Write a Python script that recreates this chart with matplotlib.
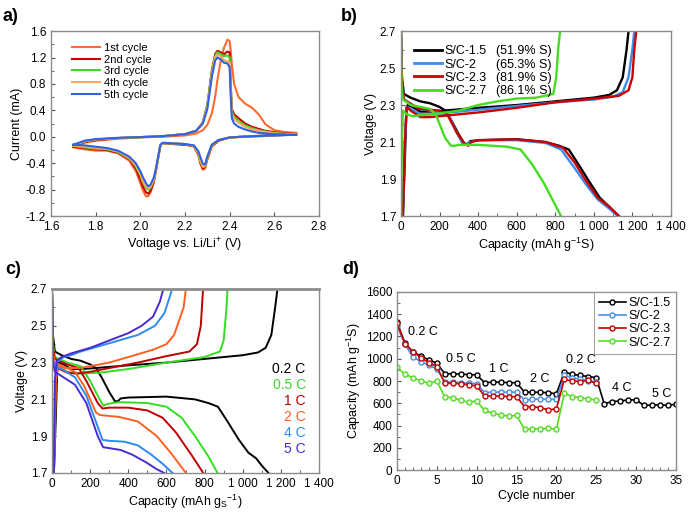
import matplotlib
matplotlib.use("Agg")
import matplotlib.pyplot as plt
from matplotlib.lines import Line2D
from matplotlib.ticker import FuncFormatter, MultipleLocator

plt.rcParams["font.family"] = ["Liberation Sans", "DejaVu Sans"]
plt.rcParams["axes.unicode_minus"] = False
plt.rcParams["mathtext.default"] = "regular"

# ----------------------------
# a) cyclic voltammetry
# ----------------------------
CV_UP_V = [1.70, 1.75, 1.80, 1.90, 2.00, 2.10, 2.20, 2.25, 2.28, 2.30, 2.32, 2.335,
           2.345, 2.36, 2.375, 2.39, 2.40, 2.405, 2.41, 2.42, 2.44, 2.47, 2.50, 2.53,
           2.56, 2.60, 2.65, 2.70]
CV_DOWN_V = [2.70, 2.60, 2.50, 2.45, 2.40, 2.35, 2.32, 2.30, 2.29, 2.28, 2.27, 2.26,
             2.24, 2.20, 2.15, 2.10, 2.09, 2.08, 2.07, 2.06, 2.045, 2.035, 2.025, 2.01,
             2.00, 1.98, 1.95, 1.90, 1.85, 1.80, 1.75, 1.70]

CV_LABELS = ["1st cycle", "2nd cycle", "3rd cycle", "4th cycle", "5th cycle"]
CV_COLORS = ["#FF6A30", "#C80000", "#3ED62A", "#FFA860", "#2F62E0"]

CV_UP_I = [
    [-0.15, -0.09, -0.06, -0.03, -0.01, 0.00, 0.02, 0.05, 0.10, 0.18, 0.35, 0.60,
     0.85, 1.15, 1.35, 1.47, 1.45, 1.30, 1.10, 0.80, 0.60, 0.50, 0.44, 0.34,
     0.19, 0.10, 0.07, 0.06],
    [-0.14, -0.08, -0.05, -0.02, -0.005, 0.01, 0.04, 0.09, 0.22, 0.48, 1.00, 1.25,
     1.30, 1.28, 1.25, 1.29, 1.28, 0.80, 0.42, 0.34, 0.28, 0.20, 0.15, 0.12,
     0.09, 0.07, 0.05, 0.04],
    [-0.13, -0.07, -0.04, -0.02, -0.005, 0.01, 0.04, 0.09, 0.21, 0.46, 0.97, 1.22,
     1.28, 1.25, 1.22, 1.23, 1.20, 0.75, 0.38, 0.30, 0.24, 0.17, 0.13, 0.10,
     0.08, 0.06, 0.045, 0.035],
    [-0.13, -0.07, -0.04, -0.02, -0.005, 0.01, 0.04, 0.09, 0.21, 0.45, 0.95, 1.20,
     1.25, 1.21, 1.16, 1.14, 1.12, 0.70, 0.35, 0.27, 0.21, 0.15, 0.11, 0.09,
     0.07, 0.05, 0.04, 0.035],
    [-0.12, -0.06, -0.035, -0.015, -0.005, 0.01, 0.04, 0.09, 0.20, 0.42, 0.90, 1.15,
     1.20, 1.17, 1.12, 1.11, 1.05, 0.60, 0.28, 0.20, 0.15, 0.11, 0.08, 0.06,
     0.05, 0.04, 0.035, 0.03],
]
CV_DOWN_I = [
    [0.06, 0.02, 0.00, -0.005, -0.01, -0.06, -0.15, -0.35, -0.48, -0.50, -0.42, -0.28,
     -0.15, -0.12, -0.11, -0.10, -0.13, -0.32, -0.52, -0.70, -0.85, -0.90, -0.90, -0.80,
     -0.70, -0.52, -0.36, -0.25, -0.21, -0.21, -0.19, -0.16],
    [0.04, 0.02, 0.01, 0.00, -0.01, -0.06, -0.14, -0.33, -0.46, -0.48, -0.40, -0.26,
     -0.14, -0.12, -0.11, -0.10, -0.13, -0.32, -0.51, -0.68, -0.82, -0.86, -0.84, -0.74,
     -0.64, -0.48, -0.34, -0.24, -0.20, -0.19, -0.17, -0.15],
    [0.035, 0.02, 0.01, 0.00, -0.01, -0.05, -0.13, -0.32, -0.45, -0.46, -0.38, -0.25,
     -0.14, -0.11, -0.10, -0.10, -0.13, -0.31, -0.50, -0.66, -0.78, -0.80, -0.77, -0.68,
     -0.58, -0.45, -0.33, -0.23, -0.19, -0.18, -0.16, -0.14],
    [0.035, 0.02, 0.01, 0.00, -0.01, -0.05, -0.13, -0.31, -0.44, -0.45, -0.37, -0.24,
     -0.14, -0.11, -0.10, -0.10, -0.13, -0.31, -0.50, -0.65, -0.76, -0.78, -0.75, -0.66,
     -0.56, -0.43, -0.32, -0.22, -0.18, -0.17, -0.15, -0.13],
    [0.03, 0.02, 0.01, 0.00, -0.01, -0.05, -0.12, -0.30, -0.42, -0.41, -0.32, -0.22,
     -0.13, -0.11, -0.10, -0.09, -0.12, -0.30, -0.48, -0.62, -0.73, -0.75, -0.70, -0.60,
     -0.52, -0.40, -0.30, -0.21, -0.17, -0.15, -0.13, -0.12],
]

# ----------------------------
# b) charge/discharge profiles of the S/C composites
# ----------------------------
B_LABELS = ["S/C-1.5", "S/C-2", "S/C-2.3", "S/C-2.7"]
B_SULFUR = ["(51.9% S)", "(65.3% S)", "(81.9% S)", "(86.1% S)"]
B_COLORS = ["#000000", "#3C8CF0", "#CC0000", "#44DD22"]

B_DIS_CAP = [
    [0, 5, 15, 50, 100, 150, 200, 230, 260, 300, 330, 345, 360, 400, 600, 750, 820,
     870, 920, 980, 1030, 1070, 1100, 1130],
    [0, 5, 15, 60, 100, 200, 250, 290, 320, 340, 360, 400, 600, 750, 830, 900, 960,
     1020, 1080, 1125],
    [0, 5, 15, 60, 100, 200, 240, 290, 330, 350, 365, 400, 600, 750, 840, 900, 960,
     1020, 1080, 1130],
    [0, 3, 10, 50, 100, 150, 180, 230, 260, 280, 300, 400, 550, 620, 680, 740, 790,
     820, 830],
]
B_DIS_V = [
    [2.70, 2.45, 2.36, 2.34, 2.32, 2.31, 2.29, 2.27, 2.22, 2.14, 2.09, 2.09, 2.105,
     2.11, 2.115, 2.10, 2.08, 2.06, 1.98, 1.88, 1.80, 1.76, 1.73, 1.70],
    [2.70, 2.42, 2.33, 2.30, 2.28, 2.26, 2.24, 2.15, 2.09, 2.09, 2.10, 2.11, 2.11,
     2.095, 2.06, 1.96, 1.87, 1.79, 1.74, 1.70],
    [2.70, 2.42, 2.33, 2.30, 2.28, 2.27, 2.25, 2.15, 2.09, 2.08, 2.10, 2.11, 2.115,
     2.10, 2.07, 1.99, 1.89, 1.80, 1.75, 1.70],
    [2.70, 2.40, 2.33, 2.30, 2.29, 2.28, 2.25, 2.12, 2.08, 2.08, 2.085, 2.085, 2.075,
     2.06, 1.98, 1.88, 1.78, 1.72, 1.70],
]
B_CHG_CAP = [
    [10, 20, 28, 35, 60, 100, 150, 200, 400, 600, 800, 1000, 1080, 1120, 1150, 1170, 1180],
    [10, 20, 30, 50, 100, 150, 200, 400, 600, 800, 1000, 1100, 1150, 1180, 1200, 1210],
    [10, 20, 30, 50, 100, 150, 200, 400, 600, 800, 1000, 1130, 1180, 1200, 1210, 1220],
    [0, 5, 10, 30, 60, 100, 200, 300, 400, 500, 600, 700, 790, 805, 815, 825],
]
B_CHG_V = [
    [1.70, 2.00, 2.28, 2.30, 2.29, 2.265, 2.265, 2.268, 2.285, 2.30, 2.32, 2.34, 2.355,
     2.38, 2.45, 2.60, 2.70],
    [1.70, 2.10, 2.29, 2.28, 2.25, 2.25, 2.255, 2.275, 2.295, 2.315, 2.33, 2.345, 2.37,
     2.45, 2.60, 2.70],
    [1.70, 2.10, 2.29, 2.27, 2.235, 2.235, 2.24, 2.26, 2.285, 2.315, 2.335, 2.35, 2.38,
     2.45, 2.60, 2.70],
    [1.70, 2.10, 2.27, 2.25, 2.24, 2.245, 2.255, 2.27, 2.30, 2.32, 2.335, 2.34, 2.36,
     2.45, 2.60, 2.70],
]

# ----------------------------
# c) rate profiles
# ----------------------------
C_LABELS = ["0.2 C", "0.5 C", "1 C", "2 C", "4 C", "5 C"]
C_COLORS = ["#000000", "#33DD22", "#C00000", "#FF6020", "#2C8CF0", "#4B2BD0"]

C_DIS_CAP = [
    [0, 5, 15, 50, 100, 150, 200, 230, 260, 300, 330, 345, 360, 400, 600, 750, 820,
     870, 920, 980, 1030, 1070, 1100, 1135],
    [0, 5, 15, 80, 150, 200, 250, 270, 290, 350, 500, 600, 680, 750, 820, 868],
    [0, 5, 15, 80, 140, 180, 240, 265, 300, 400, 500, 580, 650, 730, 793],
    [0, 5, 15, 60, 120, 170, 230, 250, 300, 350, 450, 550, 630, 702],
    [0, 5, 15, 60, 120, 180, 240, 265, 300, 380, 450, 520, 580, 632],
    [0, 5, 15, 60, 120, 180, 240, 268, 300, 360, 420, 490, 550, 588],
]
C_DIS_V = [
    [2.70, 2.45, 2.36, 2.34, 2.32, 2.31, 2.29, 2.27, 2.22, 2.14, 2.09, 2.09, 2.105,
     2.11, 2.115, 2.10, 2.08, 2.06, 1.98, 1.88, 1.81, 1.78, 1.74, 1.70],
    [2.70, 2.40, 2.33, 2.30, 2.28, 2.20, 2.10, 2.065, 2.075, 2.085, 2.08, 2.06, 2.00,
     1.90, 1.79, 1.70],
    [2.70, 2.38, 2.32, 2.29, 2.27, 2.20, 2.08, 2.05, 2.055, 2.055, 2.04, 2.00, 1.92,
     1.80, 1.70],
    [2.70, 2.35, 2.30, 2.28, 2.25, 2.17, 2.03, 2.015, 2.01, 2.005, 1.98, 1.90, 1.80,
     1.70],
    [2.70, 2.32, 2.28, 2.26, 2.22, 2.12, 1.95, 1.88, 1.875, 1.87, 1.85, 1.80, 1.75,
     1.70],
    [2.70, 2.30, 2.25, 2.22, 2.18, 2.08, 1.90, 1.84, 1.835, 1.825, 1.80, 1.76, 1.72,
     1.70],
]
C_CHG_CAP = [
    [10, 20, 28, 35, 60, 100, 150, 200, 400, 600, 800, 1000, 1080, 1120, 1150, 1170, 1182],
    [10, 20, 30, 80, 150, 250, 400, 600, 800, 880, 900, 915, 920],
    [10, 20, 30, 80, 130, 200, 300, 450, 600, 720, 760, 780, 792],
    [10, 20, 30, 70, 140, 200, 300, 400, 530, 600, 640, 690, 702],
    [10, 15, 25, 60, 100, 150, 250, 350, 450, 540, 590, 615, 630],
    [10, 15, 25, 50, 100, 200, 300, 400, 470, 530, 565, 584],
]
C_CHG_V = [
    [1.70, 2.00, 2.28, 2.30, 2.29, 2.265, 2.265, 2.268, 2.285, 2.30, 2.32, 2.34, 2.355,
     2.38, 2.45, 2.60, 2.70],
    [1.70, 2.20, 2.28, 2.25, 2.24, 2.245, 2.265, 2.30, 2.33, 2.36, 2.42, 2.60, 2.70],
    [1.70, 2.20, 2.27, 2.245, 2.24, 2.25, 2.27, 2.30, 2.335, 2.36, 2.40, 2.50, 2.70],
    [1.70, 2.20, 2.28, 2.27, 2.27, 2.28, 2.30, 2.33, 2.37, 2.40, 2.45, 2.60, 2.70],
    [1.70, 2.20, 2.30, 2.33, 2.34, 2.36, 2.39, 2.42, 2.45, 2.50, 2.57, 2.65, 2.70],
    [1.70, 2.20, 2.31, 2.33, 2.35, 2.38, 2.42, 2.46, 2.50, 2.55, 2.63, 2.70],
]
VOLT_TICKS = [1.7, 1.9, 2.1, 2.3, 2.5, 2.7]

# ----------------------------
# d) rate capability
# ----------------------------
D_LABELS = ["S/C-1.5", "S/C-2", "S/C-2.3", "S/C-2.7"]
D_COLORS = ["#000000", "#4A90E8", "#C80000", "#55DD22"]
D_CYCLES_LONG = list(range(36))
D_CYCLES_SHORT = list(range(26))
D_CAPACITY = [
    [1330, 1140, 1060, 1025, 990, 960, 865, 865, 862, 858, 855, 785, 790, 790, 785, 785,
     700, 700, 698, 695, 685, 880, 860, 850, 840, 830, 595, 615, 620, 630, 630, 580,
     585, 585, 582, 592],
    [1295, 1130, 1015, 975, 940, 910, 790, 790, 785, 780, 775, 695, 700, 700, 700, 700,
     630, 635, 638, 635, 635, 850, 830, 815, 800, 790],
    [1320, 1135, 1065, 1010, 965, 930, 780, 780, 775, 765, 755, 665, 665, 665, 660, 660,
     570, 570, 560, 540, 550, 815, 800, 795, 805, 780],
    [925, 860, 830, 800, 780, 800, 655, 650, 625, 610, 620, 535, 510, 495, 485, 490,
     365, 370, 370, 375, 365, 690, 660, 650, 640, 630],
]
D_RATE_TEXT = ["0.2 C", "0.5 C", "1 C", "2 C", "0.2 C", "4 C", "5 C"]
D_RATE_X = [3.2, 8.0, 12.8, 17.9, 23.1, 28.2, 33.2]
D_RATE_Y = [1240, 995, 910, 815, 985, 740, 687]

SPINE_COLOR = "#8C8C8C"
FS = 8.5


def thousands(x, pos):
    return f"{int(round(x)):,}".replace(",", " ")


def style_axes(ax):
    for s in ax.spines.values():
        s.set_color(SPINE_COLOR)
        s.set_linewidth(1.0)
    ax.tick_params(which="both", direction="in", labelsize=FS, color="#555555",
                   top=False, right=False)
    ax.tick_params(which="major", length=3)
    ax.tick_params(which="minor", length=2)


def style_profile_axes(ax):
    ax.set_xlim(0, 1400)
    ax.set_ylim(1.7, 2.7)
    ax.xaxis.set_major_locator(MultipleLocator(200))
    ax.xaxis.set_minor_locator(MultipleLocator(100))
    ax.set_yticks(VOLT_TICKS)
    ax.yaxis.set_minor_locator(MultipleLocator(0.1))
    ax.xaxis.set_major_formatter(FuncFormatter(thousands))
    ax.yaxis.set_major_formatter(FuncFormatter(lambda x, p: f"{x:.1f}"))
    ax.set_ylabel("Voltage (V)", fontsize=FS + 0.5, labelpad=2)
    style_axes(ax)


fig = plt.figure(figsize=(6.88, 5.12), dpi=100)

# ---- a)
ax_a = fig.add_axes([0.0741, 0.578, 0.3895, 0.3613])
for i in range(5):
    ax_a.plot(CV_UP_V + CV_DOWN_V, CV_UP_I[i] + CV_DOWN_I[i], color=CV_COLORS[i],
              lw=1.5, label=CV_LABELS[i])
ax_a.set_xlim(1.6, 2.8)
ax_a.set_ylim(-1.2, 1.6)
ax_a.xaxis.set_major_locator(MultipleLocator(0.2))
ax_a.yaxis.set_major_locator(MultipleLocator(0.4))
ax_a.yaxis.set_minor_locator(MultipleLocator(0.2))
ax_a.xaxis.set_major_formatter(FuncFormatter(lambda x, p: f"{x:.1f}"))
ax_a.yaxis.set_major_formatter(FuncFormatter(lambda x, p: f"{x:.1f}"))
ax_a.set_xlabel("Voltage vs. Li/Li$^{+}$ (V)", fontsize=FS + 0.5, labelpad=2)
ax_a.set_ylabel("Current (mA)", fontsize=FS + 0.5, labelpad=2)
style_axes(ax_a)
ax_a.legend(loc="upper left", bbox_to_anchor=(0.06, 0.96), frameon=False,
            fontsize=FS - 0.5, handlelength=2.6, handletextpad=0.3,
            labelspacing=0.15, borderaxespad=0)

# ---- b)
ax_b = fig.add_axes([0.5828, 0.578, 0.3924, 0.3613])
for i in range(4):
    ax_b.plot(B_DIS_CAP[i], B_DIS_V[i], color=B_COLORS[i], lw=1.7)
    ax_b.plot(B_CHG_CAP[i], B_CHG_V[i], color=B_COLORS[i], lw=1.7)
style_profile_axes(ax_b)
ax_b.set_xlabel("Capacity (mAh g$^{-1}$S)", fontsize=FS + 0.5, labelpad=2)
b_handles = [Line2D([], [], color=c, lw=2) for c in B_COLORS]
b_handles += [Line2D([], [], alpha=0) for _ in B_COLORS]
ax_b.legend(b_handles, B_LABELS + B_SULFUR, ncol=2, loc="upper left",
            bbox_to_anchor=(0.03, 0.95), frameon=False, fontsize=FS + 0.5,
            handlelength=2.2, handletextpad=0.2, labelspacing=0.1,
            columnspacing=-1.6, borderaxespad=0)

# ---- c)
ax_c = fig.add_axes([0.0756, 0.0762, 0.3881, 0.3594])
for i in range(6):
    ax_c.plot(C_DIS_CAP[i], C_DIS_V[i], color=C_COLORS[i], lw=1.4)
    ax_c.plot(C_CHG_CAP[i], C_CHG_V[i], color=C_COLORS[i], lw=1.4)
    ax_c.text(1330, 2.265 - 0.087 * i, C_LABELS[i], color=C_COLORS[i],
              fontsize=FS + 1.5, ha="right", va="center")
style_profile_axes(ax_c)
ax_c.set_xlabel("Capacity (mAh g$_{S}$$^{-1}$)", fontsize=FS + 0.5, labelpad=2)
ax_c.spines["top"].set_linewidth(2.0)

# ---- d)
ax_d = fig.add_axes([0.577, 0.082, 0.4055, 0.3477])
for i in range(4):
    cyc = D_CYCLES_LONG if i == 0 else D_CYCLES_SHORT
    ax_d.plot(cyc, D_CAPACITY[i], color=D_COLORS[i], lw=1.2, marker="o", ms=3.6,
              mfc="#F4F4F4", mew=1.0, label=D_LABELS[i])
for t, x, y in zip(D_RATE_TEXT, D_RATE_X, D_RATE_Y):
    ax_d.text(x, y, t, fontsize=FS + 0.5, ha="center", va="center")
ax_d.set_xlim(0, 35)
ax_d.set_ylim(0, 1600)
ax_d.xaxis.set_major_locator(MultipleLocator(5))
ax_d.xaxis.set_minor_locator(MultipleLocator(1))
ax_d.yaxis.set_major_locator(MultipleLocator(200))
ax_d.yaxis.set_minor_locator(MultipleLocator(100))
ax_d.set_xlabel("Cycle number", fontsize=FS + 0.5, labelpad=2)
ax_d.set_ylabel("Capacity (mAh g$^{-1}$S)", fontsize=FS + 0.5, labelpad=2)
style_axes(ax_d)
leg = ax_d.legend(loc="upper right", frameon=True, fancybox=False,
                  fontsize=FS + 0.5, handlelength=2.2, handletextpad=0.2,
                  labelspacing=0.1, borderaxespad=0, borderpad=0.4)
leg.get_frame().set_edgecolor(SPINE_COLOR)
leg.get_frame().set_linewidth(0.8)

# panel letters
for lab, x, y in [("a)", 0.003, 0.985), ("b)", 0.495, 0.985),
                  ("c)", 0.008, 0.49), ("d)", 0.497, 0.49)]:
    fig.text(x, y, lab, fontsize=13, fontweight="bold", ha="left", va="top")

fig.savefig("out.png", dpi=100)
